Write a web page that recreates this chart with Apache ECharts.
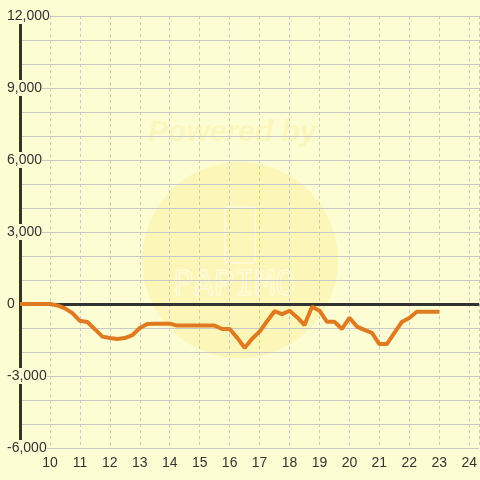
<!DOCTYPE html>
<html><head><meta charset="utf-8">
<script src="https://cdn.jsdelivr.net/npm/echarts@6/dist/echarts.min.js"></script>
<style>html,body{margin:0;padding:0;background:#fdfdd3}#c{width:480px;height:480px}</style>
</head><body><div id="c"></div>
<script>
const hours = [9, 9.25, 9.5, 9.75, 10, 10.25, 10.5, 10.75, 11, 11.25, 11.5, 11.75, 12, 12.25, 12.5, 12.75, 13, 13.25, 13.5, 13.75, 14, 14.25, 14.5, 14.75, 15, 15.25, 15.5, 15.75, 16, 16.25, 16.5, 16.75, 17, 17.25, 17.5, 17.75, 18, 18.25, 18.5, 18.75, 19, 19.25, 19.5, 19.75, 20, 20.25, 20.5, 20.75, 21, 21.25, 21.5, 21.75, 22, 22.25, 22.5, 22.75, 23];
const values = [0, 0, 0, 0, 0, -60, -180, -380, -700, -750, -1050, -1360, -1420, -1460, -1420, -1300, -1000, -830, -820, -820, -820, -900, -900, -900, -900, -900, -900, -1040, -1040, -1400, -1830, -1450, -1150, -720, -300, -420, -280, -550, -875, -110, -280, -740, -740, -1040, -580, -940, -1080, -1200, -1670, -1670, -1200, -750, -580, -320, -320, -320, -320];
const xTicks = [10, 11, 12, 13, 14, 15, 16, 17, 18, 19, 20, 21, 22, 23, 24];
const yLabelValues = [-6000, -3000, 0, 3000, 6000, 9000, 12000];
const BG = '#fdfdd3';
const chart = echarts.init(document.getElementById('c'));
chart.setOption({
  backgroundColor: BG,
  animation: false,
  textStyle: {fontFamily: 'Liberation Sans, Arial, sans-serif'},
  grid: {left: 20, right: 0, top: 16, bottom: 32},
  graphic: [
    {type: 'circle', shape: {cx: 240, cy: 260, r: 98}, style: {fill: '#fcef9e', opacity: 0.5}, z: -10, silent: true},
    {type: 'text', left: 148, top: 118, style: {text: 'Powered by', font: 'italic bold 30px Liberation Sans, Arial', fill: '#f8efa0', opacity: 0.45}, z: -10, silent: true},
    {type: 'text', left: 172, top: 268, style: {text: 'PAPIMO', font: '34px DejaVu Sans Mono, monospace', fill: 'none', stroke: '#fffbe0', lineWidth: 1.5, opacity: 0.8}, z: -10, silent: true},
    {type: 'rect', shape: {x: 225, y: 207, width: 30, height: 56, r: 2}, style: {fill: 'none', stroke: '#fffbe0', lineWidth: 2, opacity: 0.7}, z: -10, silent: true}
  ],
  xAxis: {
    type: 'value', min: 9, max: 24.333, interval: 1,
    axisLine: {show: false}, axisTick: {show: false},
    splitLine: {show: true, lineStyle: {color: '#c8c8c8', type: [3, 3], width: 1}},
    axisLabel: {
      color: '#333', fontSize: 14, margin: 8, showMaxLabel: false,
      formatter: v => xTicks.indexOf(v) >= 0 ? String(v) : ''
    }
  },
  yAxis: {
    type: 'value', min: -6000, max: 12000, interval: 1000,
    axisLine: {show: true, onZero: false, lineStyle: {color: '#333', width: 3}},
    axisTick: {show: false},
    splitLine: {show: true, lineStyle: {color: '#c8c8c8', width: 1}},
    axisLabel: {
      color: '#333', fontSize: 14, align: 'left', margin: 13,
      backgroundColor: BG, padding: [1, 0, 1, 0],
      formatter: v => yLabelValues.indexOf(v) >= 0 ? v.toLocaleString('en-US') : ''
    }
  },
  series: [{
    type: 'line', data: [], z: 1, silent: true,
    markLine: {
      silent: true, symbol: 'none', label: {show: false},
      lineStyle: {color: '#333', width: 3, type: 'solid'},
      data: [{yAxis: 0}]
    }
  }, {
    type: 'line', data: hours.map((h, i) => [h, values[i]]),
    showSymbol: false, lineStyle: {color: '#e07a20', width: 4}, z: 5
  }]
});
</script></body></html>
